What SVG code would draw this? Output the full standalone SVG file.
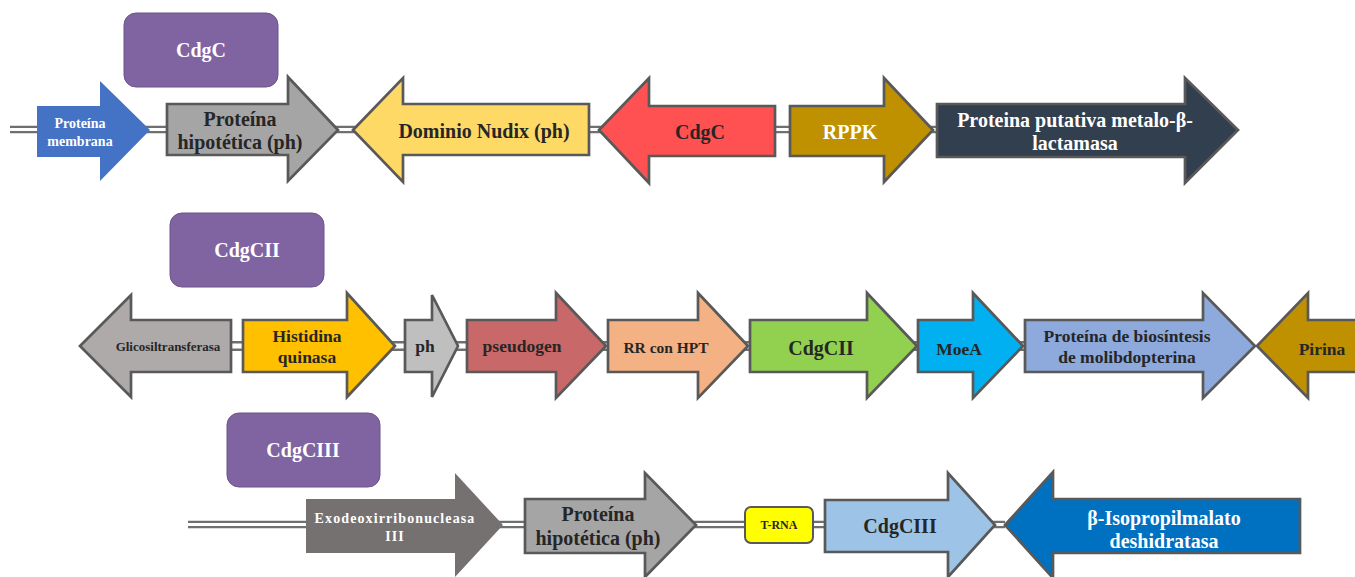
<svg xmlns="http://www.w3.org/2000/svg" width="1355" height="577" viewBox="0 0 1355 577">
<style>
.g{stroke:#595959;stroke-width:2.7;stroke-linejoin:miter}
.ns{stroke:none}
.t{font-family:"Liberation Serif","Times New Roman",serif;font-weight:bold;text-anchor:middle;fill:#262626}
.w{fill:#ffffff}
.box{fill:#8064A2;stroke:#6A5489;stroke-width:1}
.lo{stroke:#6f6f6f;fill:none}
.li{stroke:#ffffff;fill:none}
</style>
<rect width="1355" height="577" fill="#ffffff"/>
<g id="connectors">
<line class="lo" x1="10" y1="129.5" x2="937" y2="129.5" stroke-width="7.5"/>
<line class="li" x1="10" y1="129.5" x2="937" y2="129.5" stroke-width="3"/>
<line class="lo" x1="231" y1="346" x2="1250" y2="346" stroke-width="10"/>
<line class="li" x1="231" y1="346" x2="1250" y2="346" stroke-width="5"/>
<line class="lo" x1="188" y1="524.5" x2="1005" y2="524.5" stroke-width="7.5"/>
<line class="li" x1="188" y1="524.5" x2="1005" y2="524.5" stroke-width="3"/>
</g>
<g id="label-cdgc"><rect class="box" x="124" y="13" width="154" height="74" rx="12"/><text class="t w" x="201" y="57" font-size="20">CdgC</text></g>
<g id="label-cdgcii"><rect class="box" x="170" y="213" width="154" height="74" rx="12"/><text class="t w" x="247" y="257" font-size="20">CdgCII</text></g>
<g id="label-cdgciii"><rect class="box" x="227" y="413" width="153" height="74" rx="12"/><text class="t w" x="303" y="457" font-size="20">CdgCIII</text></g>

<g id="r1-membrana"><polygon class="ns" fill="#4472C4" points="37,106 100,106 100,81 150,130 100,181 100,157 37,157"/>
<text class="t w" font-size="14" x="80" y="128">Proteína</text><text class="t w" font-size="14" x="80" y="146">membrana</text></g>
<g id="r1-hipotetica"><polygon class="g" fill="#A5A5A5" points="167,104 288,104 288,77 338,130 288,181 288,155 167,155"/>
<text class="t" font-size="20" x="240" y="126">Proteína</text><text class="t" font-size="20" x="240" y="149">hipotética (ph)</text></g>
<g id="r1-nudix"><polygon class="g" fill="#FFD966" points="353,130 403,78 403,104 589,104 589,155 403,155 403,182"/>
<text class="t" font-size="20" x="484" y="138">Dominio Nudix (ph)</text></g>
<g id="r1-cdgc"><polygon class="g" fill="#FF5151" points="599,130 649,78 649,106 775,106 775,156 649,156 649,183"/>
<text class="t" font-size="20" x="700" y="139">CdgC</text></g>
<g id="r1-rppk"><polygon class="g" fill="#BF9000" points="790,106 884,106 884,78 933,130 884,182 884,156 790,156"/>
<text class="t w" font-size="20" x="850" y="139">RPPK</text></g>
<g id="r1-lactamasa"><polygon class="g" fill="#323F4F" points="937,104 1185,104 1185,78 1238,130 1185,183 1185,157 937,157"/>
<text class="t w" font-size="20" x="1075" y="127">Proteina putativa metalo-β-</text><text class="t w" font-size="20" x="1075" y="150">lactamasa</text></g>

<g id="r2-glicosil"><polygon class="g" fill="#AEAAAA" points="80,346 131,295 131,320 231,320 231,372 131,372 131,397"/>
<text class="t" font-size="13" x="168" y="351">Glicosiltransferasa</text></g>
<g id="r2-histidina"><polygon class="g" fill="#FFC000" points="243,320 347,320 347,293 395,346 347,397 347,372 243,372"/>
<text class="t" font-size="17.5" x="307" y="342">Histidina</text><text class="t" font-size="17.5" x="307" y="363">quinasa</text></g>
<g id="r2-ph"><polygon class="g" fill="#BFBFBF" points="405,320 432,320 432,295 458,346 432,397 432,372 405,372"/>
<text class="t" font-size="17.5" x="425" y="352">ph</text></g>
<g id="r2-pseudogen"><polygon class="g" fill="#C96868" points="467,320 556,320 556,293 606,346 556,398 556,372 467,372"/>
<text class="t" font-size="17.5" x="522" y="352">pseudogen</text></g>
<g id="r2-rr"><polygon class="g" fill="#F4B183" points="608,320 698,320 698,293 748,346 698,398 698,372 608,372"/>
<text class="t" font-size="15.5" x="666" y="353">RR con HPT</text></g>
<g id="r2-cdgcii"><polygon class="g" fill="#92D050" points="750,320 867,320 867,293 917,346 867,398 867,372 750,372"/>
<text class="t" font-size="20" x="821" y="355">CdgCII</text></g>
<g id="r2-moea"><polygon class="g" fill="#00B0F0" points="918,320 973,320 973,293 1023,346 973,398 973,372 918,372"/>
<text class="t" font-size="17.5" x="959" y="355">MoeA</text></g>
<g id="r2-biosintesis"><polygon class="g" fill="#8EA9DB" points="1025,320 1203,320 1203,293 1255,346 1203,398 1203,372 1025,372"/>
<text class="t" font-size="17.5" x="1127" y="342">Proteína de biosíntesis</text><text class="t" font-size="17.5" x="1127" y="363">de molibdopterina</text></g>
<g id="r2-pirina"><polygon class="g" fill="#BF9000" points="1257,346 1308,293 1308,320 1370,320 1370,372 1308,372 1308,398"/>
<text class="t" font-size="17.5" x="1322" y="355">Pirina</text></g>

<g id="r3-exo"><polygon class="ns" fill="#767171" points="306,499 455,499 455,473 503,525 455,577 455,553 306,553"/>
<text class="t w" font-size="14" letter-spacing="1.1" x="395" y="523">Exodeoxirribonucleasa</text><text class="t w" font-size="14" letter-spacing="1.1" x="395" y="541">III</text></g>
<g id="r3-hipotetica"><polygon class="g" fill="#A5A5A5" points="525,499 645,499 645,473 696,525 645,577 645,553 525,553"/>
<text class="t" font-size="20" x="598" y="521">Proteína</text><text class="t" font-size="20" x="598" y="545">hipotética (ph)</text></g>
<g id="r3-trna"><rect x="745" y="507" width="68" height="36" rx="6" fill="#FFFF00" stroke="#595959" stroke-width="2"/>
<text class="t" font-size="12" x="779" y="529">T-RNA</text></g>
<g id="r3-cdgciii"><polygon class="g" fill="#9DC3E6" points="825,500 948,500 948,473 995,525 948,577 948,552 825,552"/>
<text class="t" font-size="20" x="900" y="533">CdgCIII</text></g>
<g id="r3-isopropil"><polygon class="g" fill="#0070C0" points="1005,525 1053,472 1053,499 1300,499 1300,553 1053,553 1053,578"/>
<text class="t w" font-size="20" x="1164" y="525">β-Isopropilmalato</text><text class="t w" font-size="20" x="1164" y="548">deshidratasa</text></g>
</svg>
